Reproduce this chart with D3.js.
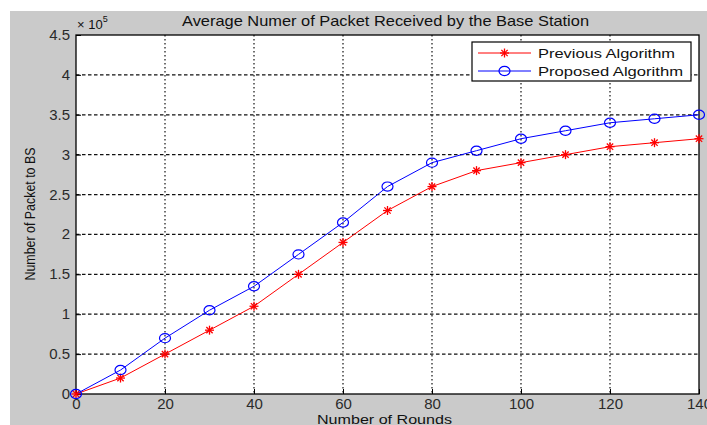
<!DOCTYPE html>
<html><head><meta charset="utf-8">
<script src="https://cdn.jsdelivr.net/npm/d3@7"></script>
<style>body{margin:0;background:#fff}svg{display:block}text{font-family:"Liberation Sans",Arial,sans-serif}</style>
</head><body>
<svg id="c" width="707" height="425"></svg>
<script>
const rounds = [0,10,20,30,40,50,60,70,80,90,100,110,120,130,140];
const previous = [0,20000,50000,80000,110000,150000,190000,230000,260000,280000,290000,300000,310000,315000,320000];
const proposed = [0,30000,70000,105000,135000,175000,215000,260000,290000,305000,320000,330000,340000,345000,350000];
const xTicks = [0,20,40,60,80,100,120,140];
const yTicks = [0,0.5,1,1.5,2,2.5,3,3.5,4,4.5];
const seriesNames = ["Previous Algorithm","Proposed Algorithm"];
const title = "Average Numer of Packet Received by the Base Station";

const svg = d3.select("#c");
svg.append("rect").attr("x",10).attr("y",11).attr("width",697).attr("height",414).attr("fill","#cacaca");
const L=76,R=699,T=35,B=394;
const x = d3.scaleLinear().domain([0,140]).range([L,R]);
const y = d3.scaleLinear().domain([0,450000]).range([B,T]);
svg.append("rect").attr("x",L).attr("y",T).attr("width",R-L).attr("height",B-T).attr("fill","#fff");
// grid
const g = svg.append("g");
g.selectAll(".vg").data(xTicks.slice(1,-1)).enter().append("line")
 .attr("x1",d=>x(d)).attr("x2",d=>x(d)).attr("y1",T).attr("y2",B)
 .attr("stroke","#111").attr("stroke-width",1.2).attr("stroke-dasharray","1.5,2.5");
g.selectAll(".hg").data(yTicks.slice(1,-1)).enter().append("line")
 .attr("y1",d=>y(d*1e5)).attr("y2",d=>y(d*1e5)).attr("x1",L).attr("x2",R)
 .attr("stroke","#111").attr("stroke-width",1.2).attr("stroke-dasharray","3.5,2.5");
// axes
const xa = svg.append("g").attr("transform",`translate(0,${B})`)
 .call(d3.axisBottom(x).tickValues(xTicks).tickSize(-5).tickPadding(4).tickFormat(d3.format("d")));
const ya = svg.append("g").attr("transform",`translate(${L},0)`)
 .call(d3.axisLeft(y).tickValues(yTicks.map(v=>v*1e5)).tickSize(-5).tickPadding(6).tickFormat(d=>String(d/1e5)));
[xa,ya].forEach(a=>{a.select(".domain").remove();a.selectAll("text").attr("font-size",15).attr("fill","#2a2a2a");a.selectAll("line").attr("stroke","#000");});
ya.selectAll(".tick text").attr("dy","0.3em");
// box
svg.append("rect").attr("x",L).attr("y",T).attr("width",R-L).attr("height",B-T).attr("fill","none").attr("stroke","#000").attr("stroke-width",1.3);
// lines
const line = d3.line().x((d,i)=>x(rounds[i])).y(d=>y(d));
const plot = svg.append("g");
plot.append("path").datum(previous).attr("d",line).attr("fill","none").attr("stroke","#ff0000").attr("stroke-width",1);
plot.append("path").datum(proposed).attr("d",line).attr("fill","none").attr("stroke","#0000ff").attr("stroke-width",1);
function star(sel,cx,cy){
  const s=4.5;
  const gg=sel.append("g").attr("stroke","#ff0000").attr("stroke-width",1.3);
  gg.append("line").attr("x1",cx-s).attr("x2",cx+s).attr("y1",cy).attr("y2",cy);
  gg.append("line").attr("x1",cx).attr("x2",cx).attr("y1",cy-s).attr("y2",cy+s);
  gg.append("line").attr("x1",cx-s*0.7).attr("x2",cx+s*0.7).attr("y1",cy-s*0.7).attr("y2",cy+s*0.7);
  gg.append("line").attr("x1",cx-s*0.7).attr("x2",cx+s*0.7).attr("y1",cy+s*0.7).attr("y2",cy-s*0.7);
}
previous.forEach((v,i)=>star(plot,x(rounds[i]),y(v)));
plot.selectAll(".circ").data(proposed).enter().append("ellipse")
 .attr("cx",(d,i)=>x(rounds[i])).attr("cy",d=>y(d)).attr("rx",5.5).attr("ry",4.6)
 .attr("fill","none").attr("stroke","#0000ff").attr("stroke-width",1.2);
// legend
const lg = svg.append("g");
lg.append("rect").attr("x",472).attr("y",42).attr("width",219).attr("height",39).attr("fill","#fff").attr("stroke","#000").attr("stroke-width",1.2);
const lw=[137,145];
[0,1].forEach(i=>{
  const yy = 53+i*18;
  lg.append("line").attr("x1",478).attr("x2",531).attr("y1",yy).attr("y2",yy).attr("stroke",i?"#0000ff":"#ff0000");
  if(i===0) star(lg,504.5,yy); else lg.append("ellipse").attr("cx",504.5).attr("cy",yy).attr("rx",5.5).attr("ry",4.6).attr("fill","none").attr("stroke","#0000ff").attr("stroke-width",1.2);
  lg.append("text").attr("x",538).attr("y",yy).attr("dy","0.36em").attr("font-size",13.5).attr("fill","#111")
    .attr("textLength",lw[i]).attr("lengthAdjust","spacingAndGlyphs").text(seriesNames[i]);
});
// texts
svg.append("text").attr("x",182).attr("y",25.5).attr("font-size",14.5).attr("fill","#111")
 .attr("textLength",407).attr("lengthAdjust","spacingAndGlyphs").text(title);
svg.append("text").attr("x",317).attr("y",423.5).attr("font-size",13).attr("fill","#111")
 .attr("textLength",135).attr("lengthAdjust","spacingAndGlyphs").text("Number of Rounds");
svg.append("text").attr("transform",`translate(35,${(T+B)/2 + 66}) rotate(-90)`).attr("font-size",14).attr("fill","#111")
 .attr("textLength",133).attr("lengthAdjust","spacingAndGlyphs").text("Number of Packet to BS");
const ex = svg.append("text").attr("x",77).attr("y",29).attr("font-size",13).attr("fill","#111");
ex.append("tspan").text("× 10");
ex.append("tspan").attr("dy",-7).attr("font-size",9).text("5");
</script>
</body></html>
